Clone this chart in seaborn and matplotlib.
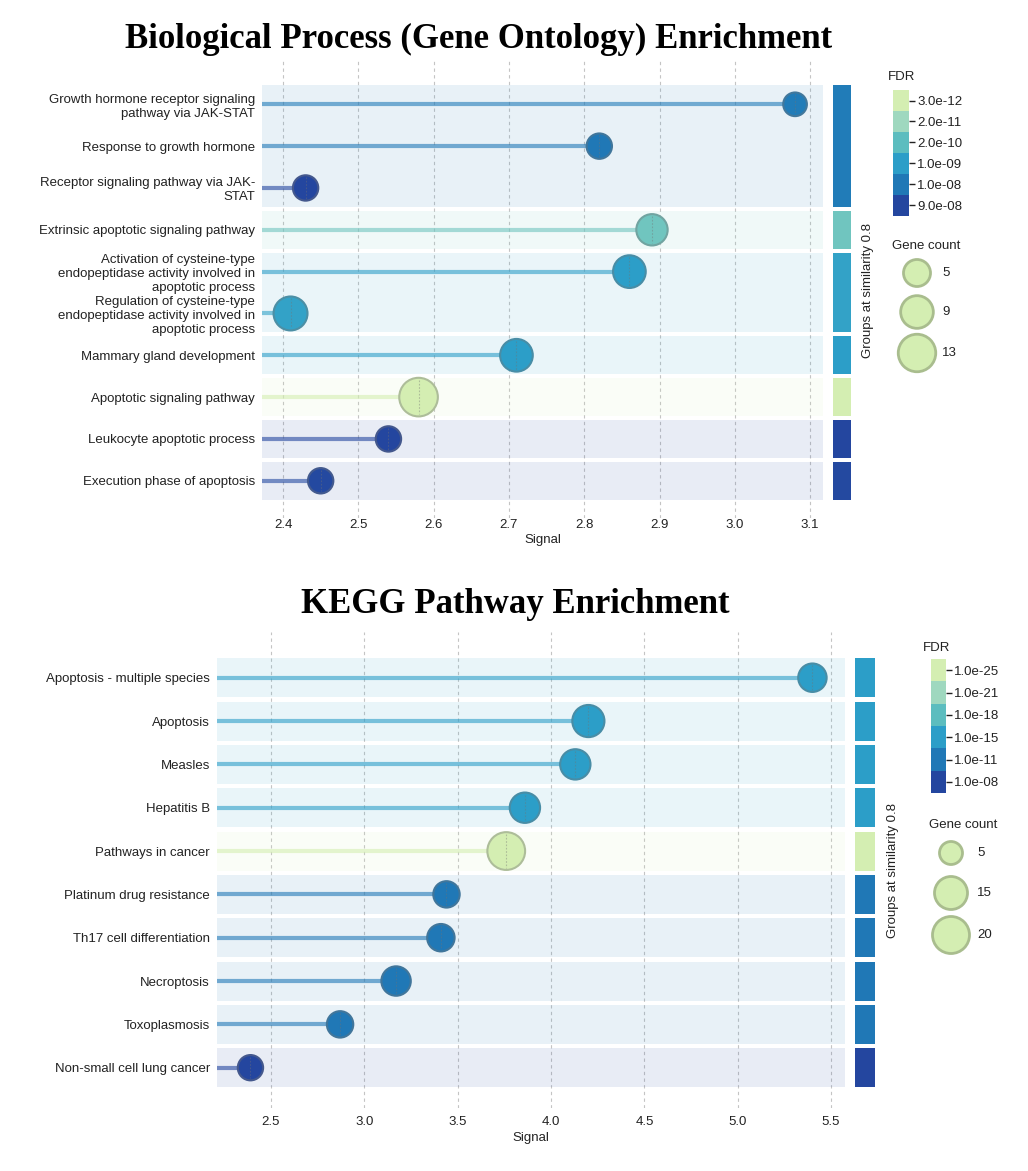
import numpy as np
import pandas as pd
import matplotlib
matplotlib.use("Agg")
import matplotlib as mpl
import matplotlib.pyplot as plt
from matplotlib.colors import ListedColormap, BoundaryNorm, to_rgb
from matplotlib.ticker import NullLocator
import seaborn as sns

sns.set_theme(style="white")
plt.rcParams["font.family"] = ["Liberation Sans", "DejaVu Sans"]

# ---------------- data ----------------
bp_terms = [
    "Growth hormone receptor signaling\npathway via JAK-STAT",
    "Response to growth hormone",
    "Receptor signaling pathway via JAK-\nSTAT",
    "Extrinsic apoptotic signaling pathway",
    "Activation of cysteine-type\nendopeptidase activity involved in\napoptotic process",
    "Regulation of cysteine-type\nendopeptidase activity involved in\napoptotic process",
    "Mammary gland development",
    "Apoptotic signaling pathway",
    "Leukocyte apoptotic process",
    "Execution phase of apoptosis",
]
bp_signal = [3.08, 2.82, 2.43, 2.89, 2.86, 2.41, 2.71, 2.58, 2.54, 2.45]
bp_fdr = [8.0e-09, 1.0e-08, 9.0e-08, 1.0e-10, 1.0e-09, 8.0e-10, 1.0e-09, 3.0e-12, 9.0e-08, 8.0e-08]
bp_count = [3, 4, 4, 8, 9, 10, 9, 14, 4, 4]
bp_group = [1, 1, 1, 2, 3, 3, 4, 5, 6, 7]
bp_fdr_ticks = [3.0e-12, 2.0e-11, 2.0e-10, 1.0e-09, 1.0e-08, 9.0e-08]
bp_count_ticks = [5, 9, 13]
bp_xticks = [2.4, 2.5, 2.6, 2.7, 2.8, 2.9, 3.0, 3.1]

kegg_terms = [
    "Apoptosis - multiple species",
    "Apoptosis",
    "Measles",
    "Hepatitis B",
    "Pathways in cancer",
    "Platinum drug resistance",
    "Th17 cell differentiation",
    "Necroptosis",
    "Toxoplasmosis",
    "Non-small cell lung cancer",
]
kegg_signal = [5.40, 4.20, 4.13, 3.86, 3.76, 3.44, 3.41, 3.17, 2.87, 2.39]
kegg_fdr = [1.0e-15, 1.0e-15, 1.0e-15, 1.0e-15, 1.0e-25, 1.0e-11, 1.0e-11, 1.0e-11, 1.0e-11, 1.0e-08]
kegg_count = [10, 14, 12, 12, 21, 8, 9, 11, 8, 7]
kegg_group = [1, 2, 3, 4, 5, 6, 7, 8, 9, 10]
kegg_fdr_ticks = [1.0e-25, 1.0e-21, 1.0e-18, 1.0e-15, 1.0e-11, 1.0e-08]
kegg_count_ticks = [5, 15, 20]
kegg_xticks = [2.5, 3.0, 3.5, 4.0, 4.5, 5.0, 5.5]

# FDR colour steps, most significant (light) to least significant (dark)
fdr_colors = ["#d4eeb2", "#9fd8bf", "#5cbdbf", "#2c9ec8", "#2078b6", "#24469f"]

# ---------------- helpers ----------------
W, H = 1028, 1171
fig = plt.figure(figsize=(W / 100, H / 100), dpi=100)
TXT = "#222222"


def add_ax(l, t, r, b, **kw):
    return fig.add_axes([l / W, 1 - b / H, (r - l) / W, (b - t) / H], **kw)


def fdr_to_color(f, ticks):
    lt = np.log10(ticks)
    x = np.clip(np.log10(f), lt[0], lt[-1])
    rgb = np.array([to_rgb(c) for c in fdr_colors])
    return tuple(float(np.interp(x, lt, rgb[:, k])) for k in range(3))


def mix(c, other=(0.45, 0.45, 0.45), w=0.4):
    c = np.array(to_rgb(c))
    return tuple((1 - w) * c + w * np.array(other))


def diameter_px(count, ticks, dmin, dmax):
    a0, a1 = dmin ** 2, dmax ** 2
    area = a0 + (a1 - a0) * (count - ticks[0]) / (ticks[-1] - ticks[0])
    return np.sqrt(np.maximum(area, 20.0))


def pts2(d_px):
    return (d_px * 0.72) ** 2


def draw_panel(box, sbox, terms, signal, fdr, count, group, fdr_ticks, count_ticks,
               dsize, xlim, ylim, xticks, tick_pad, label_pad):
    ax = add_ax(*box)
    sax = add_ax(*sbox, sharey=ax)
    n = len(terms)
    pos = np.arange(n)
    colors = [fdr_to_color(f, fdr_ticks) for f in fdr]
    diam = diameter_px(np.array(count, float), count_ticks, *dsize)
    df = pd.DataFrame({"term": terms, "signal": signal, "pos": pos,
                       "area": pts2(diam)})
    pxu = (box[3] - box[1]) / (ylim[0] - ylim[1])

    ax.set_xlim(*xlim)
    ax.set_ylim(*ylim)

    # group bands and group strip
    gap = 0.05
    for g in sorted(set(group)):
        idx = [i for i in range(n) if group[i] == g]
        y0, y1 = min(idx) - 0.5 + gap, max(idx) + 0.5 - gap
        gcol = fdr_to_color(min(fdr[i] for i in idx), fdr_ticks)
        ax.axhspan(y0, y1, color=gcol, alpha=0.1, lw=0, zorder=1)
        sax.axhspan(y0, y1, color=gcol, lw=0)

    # stems
    for i in range(n):
        ax.hlines(pos[i], xlim[0], signal[i], colors=[colors[i]], lw=3.0,
                  alpha=0.6, zorder=2)

    palette = {t: c for t, c in zip(terms, colors)}
    sns.scatterplot(data=df, x="signal", y="pos", hue="term", palette=palette,
                    size="area", sizes=(df["area"].min(), df["area"].max()),
                    size_norm=(df["area"].min(), df["area"].max()),
                    edgecolor=[mix(c) for c in colors], linewidth=1.5,
                    alpha=1.0, legend=False, ax=ax, zorder=3)

    # dashed value marker through each dot
    for i in range(n):
        r = (diam[i] / 2 - 2) / pxu
        ax.vlines(signal[i], pos[i] - r, pos[i] + r, colors=[mix(colors[i], w=0.5)],
                  lw=0.8, linestyles=(0, (1.5, 1.5)), alpha=0.8, zorder=4)

    ax.set_yticks(pos)
    ax.set_yticklabels(terms, fontsize=9.5, color=TXT, linespacing=1.2)
    ax.set_xticks(xticks)
    ax.set_xticklabels([f"{v:.1f}" for v in xticks], fontsize=9.5, color=TXT)
    ax.tick_params(axis="y", length=0, pad=5)
    ax.tick_params(axis="x", length=0, pad=tick_pad)
    ax.set_xlabel("Signal", fontsize=9.5, color=TXT, labelpad=label_pad)
    ax.set_ylabel("")
    ax.grid(axis="x", color="#c4c4c4", linestyle=(0, (3, 3)), lw=0.8)
    ax.grid(axis="y", visible=False)
    ax.set_axisbelow(True)
    sns.despine(ax=ax, left=True, bottom=True)

    sax.set_xlim(0, 1)
    sax.axis("off")
    return ax


def draw_legend(cbox, fdr_ticks, fdr_title_xy, gc_title_xy, circ_x, circ_y, lab_x,
                count_ticks, dsize, groups_xy):
    cax = add_ax(*cbox)
    cmap = ListedColormap(fdr_colors[::-1])
    norm = BoundaryNorm(np.arange(7), 6)
    cb = mpl.colorbar.ColorbarBase(cax, cmap=cmap, norm=norm,
                                   ticks=np.arange(6) + 0.5, orientation="vertical")
    cb.minorticks_off()
    cax.yaxis.set_minor_locator(NullLocator())
    cb.ax.set_yticklabels([f"{v:.1e}" for v in fdr_ticks[::-1]], fontsize=9.5, color=TXT)
    cb.outline.set_visible(False)
    cax.tick_params(axis="y", which="major", length=4, width=1.0, color=TXT, pad=2)

    fig.text(fdr_title_xy[0] / W, 1 - fdr_title_xy[1] / H, "FDR", fontsize=9.5,
             color=TXT, ha="left", va="center")
    fig.text(gc_title_xy[0] / W, 1 - gc_title_xy[1] / H, "Gene count", fontsize=9.5,
             color=TXT, ha="center", va="center")

    lax = add_ax(0, 0, W, H)
    lax.set_xlim(0, W)
    lax.set_ylim(H, 0)
    lax.axis("off")
    d = diameter_px(np.array(count_ticks, float), count_ticks, *dsize)
    lax.scatter([circ_x] * len(count_ticks), circ_y, s=pts2(d), color=fdr_colors[0],
                edgecolor="#a9bd8e", linewidth=2.0, zorder=3)
    for yy, c in zip(circ_y, count_ticks):
        lax.text(lab_x, yy, str(c), fontsize=9.5, color=TXT, ha="left", va="center")
    fig.text(groups_xy[0] / W, 1 - groups_xy[1] / H, "Groups at similarity 0.8",
             fontsize=9.5, color=TXT, rotation=90, ha="center", va="center")


# ---------------- top: biological process ----------------
draw_panel((262, 58, 823, 518), (833, 58, 851, 518), bp_terms, bp_signal, bp_fdr,
           bp_count, bp_group, bp_fdr_ticks, bp_count_ticks, (27, 37.5),
           (2.3721, 3.1171), (9.89, -1.107), bp_xticks, 1, 2)
draw_legend((893, 90, 909, 216), bp_fdr_ticks, (888, 77), (926, 246), 917,
            [273, 312, 353], 942, bp_count_ticks, (27, 37.5), (868, 290))
fig.text(479 / W, 1 - 48 / H, "Biological Process (Gene Ontology) Enrichment",
         fontsize=25, fontweight="bold", family=["Liberation Serif", "DejaVu Serif"],
         ha="center", va="baseline", color="black")

# ---------------- bottom: KEGG ----------------
draw_panel((217, 632, 845, 1108), (855, 632, 875, 1108), kegg_terms, kegg_signal,
           kegg_fdr, kegg_count, kegg_group, kegg_fdr_ticks, kegg_count_ticks, (23, 37),
           (2.2108, 5.5745), (9.93, -1.055), kegg_xticks, 6, 3)
draw_legend((931, 659, 946, 793), kegg_fdr_ticks, (923, 648), (963, 825), 951,
            [853, 893, 935], 977, kegg_count_ticks, (23, 37), (893, 870))
fig.text(515 / W, 1 - 613 / H, "KEGG Pathway Enrichment",
         fontsize=25, fontweight="bold", family=["Liberation Serif", "DejaVu Serif"],
         ha="center", va="baseline", color="black")

fig.savefig("out.png", dpi=100, facecolor="white")
